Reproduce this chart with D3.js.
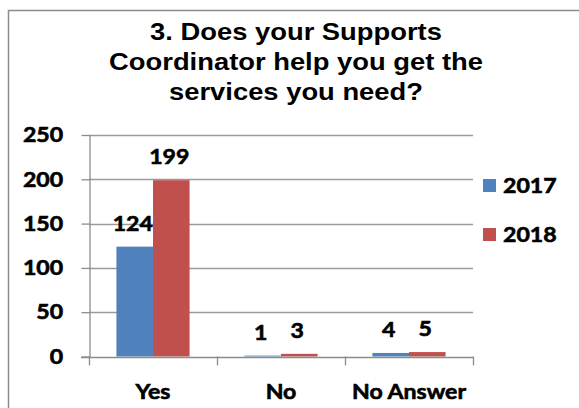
<!DOCTYPE html>
<html>
<head>
<meta charset="utf-8">
<script src="https://cdn.jsdelivr.net/npm/d3@7"></script>
<style>
  body { margin: 0; background: white; }
  svg { display: block; }
</style>
</head>
<body>
<div id="chart"></div>
<script>
// chart data
const categories = ["Yes", "No", "No Answer"];
const series = ["2017", "2018"];
const values2017 = [124, 1, 4];
const values2018 = [199, 3, 5];
const yTicks = [0, 50, 100, 150, 200, 250];
const titleLines = ["3. Does your Supports", "Coordinator help you get the", "services you need?"];

const colours = { "2017": "#4F81BD", "2018": "#C0504D" };
const valuesBySeries = { "2017": values2017, "2018": values2018 };

const w = 579, h = 408;
const m = { top: 135, right: 106, bottom: 51.5, left: 89 };

const svg = d3.select("#chart")
  .append("svg")
  .attr("width", w)
  .attr("height", h)
  .style("background", "white");

// outer frame (only top and left edges are visible in the crop)
svg.append("path")
  .attr("d", `M8.5,${h} V10.5 H${w}`)
  .attr("fill", "none")
  .attr("stroke", "#8c8c8c")
  .attr("stroke-width", 1.5);

// title, Arial-like, slightly stretched horizontally
svg.append("g")
  .selectAll("text")
  .data(titleLines)
  .join("text")
  .attr("transform", (d, i) => `translate(296, ${39.5 + i * 30}) scale(1.19, 1)`)
  .attr("text-anchor", "middle")
  .attr("font-family", "Liberation Sans, Arial, sans-serif")
  .attr("font-weight", "bold")
  .attr("font-size", 23)
  .attr("fill", "#000")
  .text(d => d);

// scales
const x0 = d3.scaleBand()
  .domain(categories)
  .range([m.left, w - m.right])
  .padding(0);

const x1 = d3.scaleBand()
  .domain(series)
  .range([0, x0.bandwidth()])
  .paddingInner(0)
  .paddingOuter(0.75);

const y = d3.scaleLinear()
  .domain([0, 250])
  .range([h - m.bottom, m.top]);

// calibri-ish labels: Lato, a bit heavier and wider
const stretch = 1.1;
function labelStyle(sel) {
  sel.attr("font-family", "Lato, Calibri, sans-serif")
    .attr("font-weight", "bold")
    .attr("font-size", 21)
    .attr("fill", "#000")
    .attr("stroke", "#000")
    .attr("stroke-width", 0.6);
}

// gridlines
svg.append("g")
  .selectAll("line")
  .data(yTicks.filter(t => t > 0))
  .join("line")
  .attr("x1", m.left)
  .attr("x2", w - m.right)
  .attr("y1", d => Math.round(y(d)) + 0.5)
  .attr("y2", d => Math.round(y(d)) + 0.5)
  .attr("stroke", "#9a9a9a")
  .attr("stroke-width", 1.3);

// bars
const groups = svg.append("g")
  .selectAll("g")
  .data(series)
  .join("g");

groups.selectAll("rect")
  .data(s => categories.map((c, i) => ({ s, c, v: valuesBySeries[s][i] })))
  .join("rect")
  .attr("fill", d => colours[d.s])
  .attr("x", d => x0(d.c) + x1(d.s))
  .attr("width", x1.bandwidth())
  .attr("y", d => y(d.v))
  .attr("height", d => y(0) - y(d.v));

// value labels
groups.selectAll("text")
  .data(s => categories.map((c, i) => ({ s, c, v: valuesBySeries[s][i] })))
  .join("text")
  .attr("transform", d => `translate(${x0(d.c) + x1(d.s) + x1.bandwidth() / 2 - 2}, ${y(d.v) - 16}) scale(${stretch}, 1)`)
  .attr("text-anchor", "middle")
  .call(labelStyle)
  .text(d => d.v);

// y axis
const yAxis = svg.append("g")
  .attr("transform", `translate(${m.left + 0.5},0)`)
  .call(d3.axisLeft(y).tickValues(yTicks).tickSize(8).tickPadding(16).tickSizeOuter(0));
yAxis.select(".domain").attr("stroke", "#8c8c8c").attr("stroke-width", 1.3);
yAxis.selectAll(".tick line").attr("stroke", "#8c8c8c").attr("stroke-width", 1.3);
yAxis.selectAll(".tick text")
  .attr("transform", `scale(${stretch}, 1)`)
  .call(labelStyle);

// x axis baseline and tick marks at category boundaries
const xAxis = svg.append("g");
xAxis.append("line")
  .attr("x1", m.left - 8)
  .attr("x2", w - m.right)
  .attr("y1", Math.round(y(0)) + 0.5)
  .attr("y2", Math.round(y(0)) + 0.5)
  .attr("stroke", "#8c8c8c")
  .attr("stroke-width", 1.3);
const boundaries = categories.map(c => x0(c)).concat([x0.range()[1]]);
xAxis.selectAll(".bt")
  .data(boundaries)
  .join("line")
  .attr("class", "bt")
  .attr("x1", d => Math.round(d) + 0.5)
  .attr("x2", d => Math.round(d) + 0.5)
  .attr("y1", y(0))
  .attr("y2", y(0) + 9)
  .attr("stroke", "#8c8c8c")
  .attr("stroke-width", 1.3);
xAxis.selectAll(".cat")
  .data(categories)
  .join("text")
  .attr("class", "cat")
  .attr("transform", d => `translate(${x0(d) + x0.bandwidth() / 2}, 399) scale(${stretch}, 1)`)
  .attr("text-anchor", "middle")
  .call(labelStyle)
  .text(d => d);

// legend
const legend = svg.append("g")
  .selectAll("g")
  .data(series)
  .join("g")
  .attr("transform", (d, i) => `translate(483, ${179 + i * 49})`);
legend.append("rect")
  .attr("width", 13)
  .attr("height", 13)
  .attr("fill", d => colours[d]);
legend.append("text")
  .attr("transform", `translate(20, 14) scale(${stretch}, 1)`)
  .call(labelStyle)
  .text(d => d);
</script>
</body>
</html>
